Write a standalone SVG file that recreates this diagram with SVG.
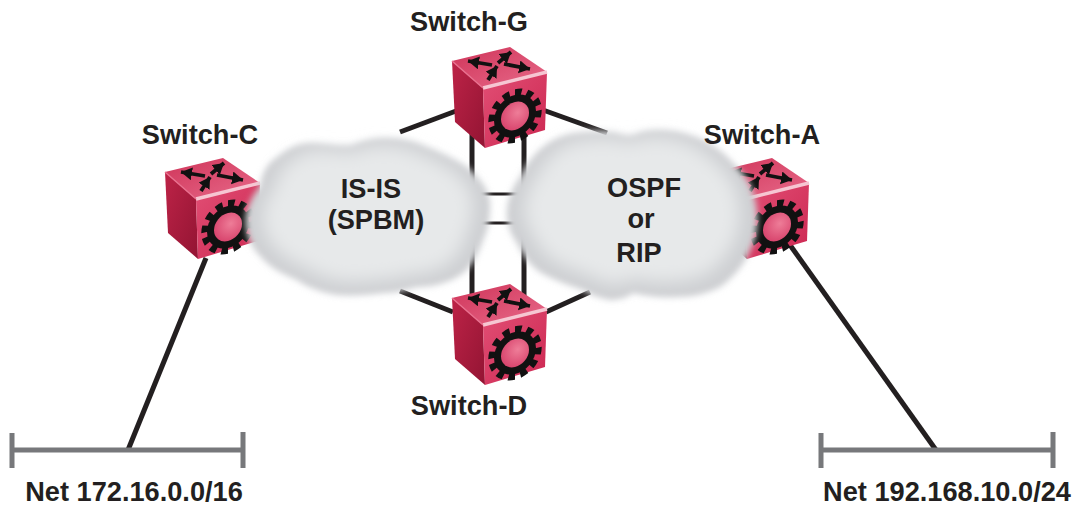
<svg xmlns="http://www.w3.org/2000/svg" width="1073" height="506" viewBox="0 0 1073 506">
<style>
text{font-family:"Liberation Sans",Arial,sans-serif;font-weight:bold;font-size:27.2px;fill:#231f20;text-anchor:middle}
.link{stroke:#231f20;stroke-width:5;fill:none}
.thin{stroke:#231f20;stroke-width:2.8;fill:none}
.bar{stroke:#77787b;stroke-width:5;fill:none}
.arr{stroke:#111;stroke-width:3.8;fill:none;marker-end:url(#head)}
</style>
<defs>
<marker id="head" markerUnits="userSpaceOnUse" markerWidth="14" markerHeight="14" refX="11" refY="6.5" orient="auto"><path d="M0,0L11,6.5L0,13z" fill="#111"/></marker>
<linearGradient id="top" x1="0" y1="0" x2="1" y2="1"><stop offset="0" stop-color="#cf3459"/><stop offset="1" stop-color="#e86a8a"/></linearGradient>
<linearGradient id="left" x1="0" y1="0" x2="1" y2="1"><stop offset="0" stop-color="#bd2347"/><stop offset="1" stop-color="#931433"/></linearGradient>
<linearGradient id="front" x1="0" y1="0" x2="1" y2="1"><stop offset="0" stop-color="#e24f75"/><stop offset="1" stop-color="#cc2751"/></linearGradient>
<radialGradient id="hub" cx="0.6" cy="0.4" r="0.7"><stop offset="0" stop-color="#ee7d98"/><stop offset="1" stop-color="#d63f69"/></radialGradient>
<filter id="blur" x="-10%" y="-10%" width="120%" height="120%"><feGaussianBlur stdDeviation="3.2"/></filter>
<filter id="soft" x="-20%" y="-20%" width="140%" height="140%"><feGaussianBlur stdDeviation="10"/></filter>
<path id="cloudL" d="M260,187C262,172 268,163 276,158C288,148 298,143 312,143C325,143 340,147 352,145C362,141 372,138 385,138C400,138 415,141 427,147C445,154 458,161 467,167C480,178 490,190 490,205C490,218 488,230 483,240C478,255 472,266 463,273C450,283 432,287 417,287C405,290 395,293 383,293C368,295 352,296 337,295C320,292 307,287 297,280C285,275 275,270 267,263C256,253 249,243 247,233C245,225 245,217 247,210C250,200 255,192 260,187z"/>
<path id="cloudR" d="M507,210C508,198 513,186 520,177C526,165 534,154 543,147C553,139 565,134 577,133C592,131 606,131 617,133C623,135 628,136 633,135C642,131 650,130 660,130C675,130 690,134 703,140C715,146 725,154 733,163C743,172 750,182 753,193C757,205 758,216 757,227C756,238 752,248 747,257C740,270 730,280 720,287C706,294 692,297 677,297C660,298 646,296 633,293C626,298 618,300 610,300C600,298 591,295 583,290C565,284 549,278 537,270C528,262 521,253 517,243C510,233 506,222 507,210z"/>
<g id="sw">
<path d="M0,0L31,27L33,87L3,61z" fill="url(#left)"/>
<path d="M0,0L58,-14L95,11L31,27z" fill="url(#top)"/>
<path d="M31,27L95,11L93,69L33,87z" fill="url(#front)"/>
<path d="M31,27L95,11" stroke="#f6c6d2" stroke-width="3.5" fill="none"/>
<path d="M0,0L31,27" stroke="#e9708f" stroke-width="1.5" fill="none"/>
<path class="arr" d="M40,4L16,0"/>
<path class="arr" d="M46,2L59,-9"/>
<path class="arr" d="M52,3L78,8"/>
<path class="arr" d="M36,19L45,5"/>
<g transform="translate(63,55) skewY(-13)">
<circle r="21" fill="#111"/>
<circle r="23.5" fill="none" stroke="#111" stroke-width="6.5" pathLength="24" stroke-dasharray="1.1 .9"/>
<circle r="14" fill="url(#hub)"/>
</g>
</g>
</defs>
<g id="connectors">
<path class="link" d="M400,132L456,111"/>
<path class="link" d="M543,110L607,133"/>
<path class="link" d="M400,291L453,312"/>
<path class="link" d="M546,312L590,292"/>
<path class="link" d="M472,120V300"/>
<path class="link" d="M524,135V300"/>
<path class="thin" d="M480,194H522"/>
<path class="thin" d="M480,223H522"/>
<path class="link" d="M206,258L128,450"/>
<path class="link" d="M790,245L936,450"/>
<path class="bar" d="M12,450H243M12,433V468M243,432V468"/>
<path class="bar" d="M821,450H1053M821,433V468M1053,432V468"/>
</g>
<g id="switch-g"><use href="#sw" x="452" y="61"/></g>
<g id="switch-d"><use href="#sw" x="452" y="298"/></g>
<g id="switch-c"><use href="#sw" x="165" y="172"/></g>
<g id="switch-a"><use href="#sw" x="714" y="172"/></g>
<g id="cloud-isis">
<use href="#cloudL" filter="url(#blur)" fill="#cdcfd2"/>
<use href="#cloudL" filter="url(#soft)" fill="#e7e9ea" transform="translate(368,215) scale(.86) translate(-368,-218)"/>
<text x="371" y="198">IS-IS</text>
<text x="376" y="229">(SPBM)</text>
</g>
<g id="cloud-ospf">
<use href="#cloudR" filter="url(#blur)" fill="#cdcfd2"/>
<use href="#cloudR" filter="url(#soft)" fill="#e7e9ea" transform="translate(632,212) scale(.86) translate(-632,-216)"/>
<text x="644" y="197">OSPF</text>
<text x="641" y="228">or</text>
<text x="639" y="262">RIP</text>
</g>
<text id="label-g" x="469" y="31">Switch-G</text>
<text id="label-c" x="200" y="144">Switch-C</text>
<text id="label-a" x="762" y="144">Switch-A</text>
<text id="label-d" x="469" y="415">Switch-D</text>
<text id="net-left" x="134" y="501">Net 172.16.0.0/16</text>
<text id="net-right" x="947" y="501">Net 192.168.10.0/24</text>
</svg>
